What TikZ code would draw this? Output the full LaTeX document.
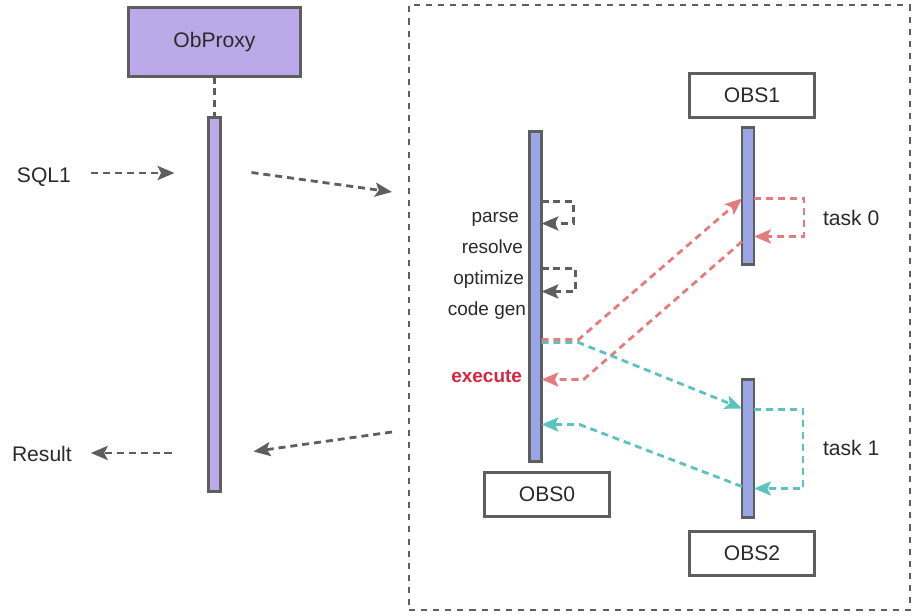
\documentclass[tikz,border=0pt]{standalone}
\usepackage{fontspec}
\setmainfont{Liberation Sans}
\usetikzlibrary{arrows.meta,calc}
\definecolor{SeqInk}{HTML}{5E5E5E}
\definecolor{SeqText}{HTML}{2A2A2A}
\definecolor{SeqProxy}{HTML}{BCA9E8}
\definecolor{SeqServer}{HTML}{9AA6E6}
\definecolor{SeqRed}{HTML}{E47C7C}
\definecolor{SeqCyan}{HTML}{5BC2BE}
\definecolor{SeqAlert}{HTML}{D8263E}
\newdimen\pxu \pxu=0.025cm
\tikzset{
    seq/diagram/.style={
        x=0.025cm, y=-0.025cm,
        line cap=butt,
        line join=miter,
        every node/.style={inner sep=0pt, outer sep=0pt}
    },
    seq/head/.style={
        draw=SeqInk, line width=2pt, fill=white, text=SeqText,
        font=\fontsize{15}{18}\selectfont
    },
    seq/bar/.style={
        draw=SeqInk, line width=2pt, fill=SeqServer,
        minimum width=12\pxu
    },
    seq/life/.style={draw=SeqInk, line width=2pt, dash pattern=on 5pt off 3.5pt},
    seq/cluster/.style={draw=SeqInk, line width=1.5pt, dash pattern=on 4.3pt off 4.3pt},
    seq/text/.style={text=SeqText, font=\fontsize{15}{18}\selectfont},
    seq/phase/.style={text=SeqText, font=\fontsize{13.5}{16}\selectfont, anchor=base east},
    seq/msg/.style={
        draw=SeqInk, line width=2pt, dash pattern=on 5pt off 3.5pt,
        -{Stealth[length=12pt, width=10pt, inset=2.5pt]}
    },
    seq/task0/.style={seq/msg, draw=SeqRed},
    seq/task1/.style={seq/msg, draw=SeqCyan}
}
\begin{document}
\begin{tikzpicture}[seq/diagram]
    \useasboundingbox (0,0) rectangle (920,616);
    % proxy lifeline
    \node[seq/head, fill=SeqProxy, minimum width=172\pxu, minimum height=69\pxu]
        (proxy) at (214.5,42) {ObProxy};
    \node[seq/bar, fill=SeqProxy, minimum height=374\pxu] (proxybar) at (214.5,304.5) {};
    \draw[seq/life] (proxy.south) -- (proxybar.north);
    \node[seq/text, anchor=base west] (sql) at (17,183) {SQL1};
    \node[seq/text, anchor=base west] (result) at (12,461) {Result};
    \draw[seq/msg, shorten <=20\pxu, shorten >=34\pxu]
        ([yshift=7.1pt]sql.base east) -- ([yshift=7.1pt]sql.base east -| proxybar.west);
    \draw[seq/msg, shorten <=37\pxu, shorten >=19\pxu]
        ([yshift=5.7pt]result.base east -| proxybar.west) -- ([yshift=5.7pt]result.base east);
    % observer cluster
    \node[seq/cluster, minimum width=501\pxu, minimum height=605\pxu] (cluster) at (659.5,307.5) {};
    \draw[seq/msg] ($(proxybar.north east)+(31,55)$) -- ($(cluster.north west)+(-17,187)$);
    \draw[seq/msg] ($(cluster.north west)+(-17,427)$) -- ($(proxybar.north east)+(33,334)$);
    \node[seq/head, minimum width=125\pxu, minimum height=44\pxu] (obs0) at (547,494.5) {OBS0};
    \node[seq/head, minimum width=125\pxu, minimum height=44\pxu] (obs1) at (752,95.5) {OBS1};
    \node[seq/head, minimum width=125\pxu, minimum height=44\pxu] (obs2) at (752,553.5) {OBS2};
    \node[seq/bar, minimum height=330\pxu] (obs0bar) at (535.5,296.5) {};
    \node[seq/bar, minimum height=137\pxu] (obs1bar) at (748,196) {};
    \node[seq/bar, minimum height=138\pxu] (obs2bar) at (748,448.5) {};
    % phases on OBS0
    \node[seq/phase] (parse) at (519,223) {parse};
    \node[seq/phase] (resolve) at (523,253) {resolve};
    \node[seq/phase] (optimize) at (524,285) {optimize};
    \node[seq/phase] (codegen) at (526,315) {code gen};
    \node[seq/phase, text=SeqAlert, font=\fontsize{13.5}{16}\selectfont\bfseries]
        (execute) at (522,382) {execute};
    \coordinate (parseout) at ($(obs0bar.north east)+(0,70)$);
    \coordinate (parsein) at ($(obs0bar.north east)+(0,92)$);
    \coordinate (optout) at ($(obs0bar.north east)+(0,137)$);
    \coordinate (optin) at ($(obs0bar.north east)+(0,160)$);
    \draw[seq/msg] (parseout) -- ++(32,0) |- (parsein);
    \draw[seq/msg] (optout) -- ++(34,0) |- (optin);
    % task 0 on OBS1
    \coordinate (redout) at ($(obs0bar.north east)+(0,208)$);
    \coordinate (redhome) at ($(obs0bar.north east)+(0,248)$);
    \coordinate (redin) at ($(obs1bar.north west)+(0,71)$);
    \coordinate (redback) at ($(obs1bar.north west)+(0,114)$);
    \coordinate (t0out) at ($(obs1bar.north east)+(0,71)$);
    \coordinate (t0in) at ($(obs1bar.north east)+(0,109)$);
    \draw[seq/task0] (redout) -- ++(37,0) -- (redin);
    \draw[seq/task0] (t0out) -- ++(50,0) |- (t0in);
    \draw[seq/task0] (redback) -- ($(redhome)+(42,0)$) -- (redhome);
    \node[seq/text, anchor=base west] (task0) at (823,226) {task 0};
    % task 1 on OBS2
    \coordinate (cyout) at ($(obs0bar.north east)+(0,211)$);
    \coordinate (cyhome) at ($(obs0bar.north east)+(0,293)$);
    \coordinate (cyin) at ($(obs2bar.north west)+(0,29)$);
    \coordinate (cyback) at ($(obs2bar.north west)+(0,107)$);
    \coordinate (t1out) at ($(obs2bar.north east)+(0,30)$);
    \coordinate (t1in) at ($(obs2bar.north east)+(0,109)$);
    \draw[seq/task1] (cyout) -- ++(37,0) -- (cyin);
    \draw[seq/task1] (t1out) -- ++(49,0) |- (t1in);
    \draw[seq/task1] (cyback) -- ($(cyhome)+(38,0)$) -- (cyhome);
    \node[seq/text, anchor=base west] (task1) at (823,455) {task 1};
\end{tikzpicture}
\end{document}
